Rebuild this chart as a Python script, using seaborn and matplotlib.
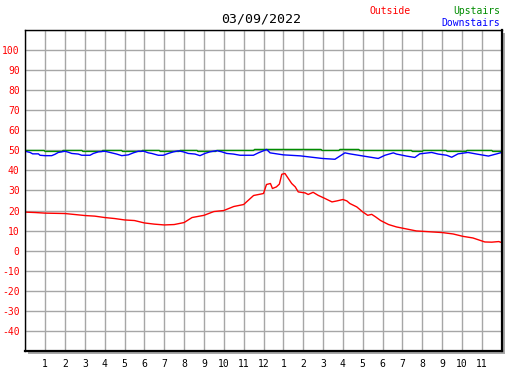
import matplotlib
matplotlib.use("Agg")
import matplotlib.pyplot as plt
import seaborn as sns
from matplotlib.patches import Rectangle

# ---- data (hours since midnight, temperature) ----
out_hours = [0, 0.5, 1, 1.5, 2, 2.5, 3, 3.5, 4, 4.5, 5, 5.5, 6, 6.5, 7, 7.5, 8, 8.4, 9, 9.5,
             10, 10.5, 11, 11.5, 12, 12.15, 12.35, 12.45, 12.65, 12.8, 12.92, 13.08, 13.25,
             13.42, 13.6, 13.75, 14.1, 14.25, 14.5, 14.75, 15.1, 15.45, 15.7, 16.0, 16.2,
             16.35, 16.7, 17.0, 17.25, 17.45, 17.65, 17.9, 18.3, 18.7, 19.1, 19.7, 20.2,
             21.0, 21.55, 22.05, 22.55, 23.15, 23.5, 23.85, 24]
out_temp = [19.2, 19.0, 18.7, 18.6, 18.5, 18.0, 17.5, 17.2, 16.5, 16.0, 15.3, 15.0, 13.8, 13.2,
            12.8, 13.0, 14.0, 16.5, 17.6, 19.5, 20.0, 22.0, 23.0, 27.5, 28.5, 33.0, 33.5, 31.0,
            31.8, 33.2, 38.1, 38.5, 36.0, 33.5, 31.8, 29.3, 28.8, 28.0, 29.1, 27.6, 26.0, 24.3,
            24.8, 25.5, 24.8, 23.5, 21.8, 19.3, 17.6, 18.1, 16.8, 15.0, 13.0, 11.8, 11.0, 9.8,
            9.5, 9.0, 8.3, 7.1, 6.3, 4.3, 4.2, 4.5, 4.0]

up_hours = [0, 0.95, 1.0, 1.85, 1.9, 2.85, 2.9, 3.85, 3.9, 4.85, 4.9, 5.85, 5.9, 6.75, 6.8,
            7.75, 7.8, 8.65, 8.7, 9.6, 9.65, 11.5, 11.55, 14.9, 14.95, 15.8, 15.85, 16.8,
            16.85, 19.45, 19.5, 20.0, 20.05, 21.2, 21.25, 22.2, 22.25, 23.5, 23.55, 24]
up_temp = [50.0, 50.0, 49.5, 49.5, 50.0, 50.0, 49.5, 49.5, 50.0, 50.0, 49.5, 49.5, 50.0, 50.0,
           49.5, 49.5, 50.0, 50.0, 49.5, 49.5, 50.0, 50.0, 50.5, 50.5, 50.0, 50.0, 50.5, 50.5,
           50.0, 50.0, 49.5, 49.5, 50.0, 50.0, 49.5, 49.5, 50.0, 50.0, 49.5, 49.5]

down_hours = [0, 0.24, 0.37, 0.66, 0.74, 0.99, 1.33, 1.5, 1.66, 1.83, 2.0, 2.17, 2.34, 2.67,
              2.84, 3.26, 3.43, 3.68, 4.01, 4.35, 4.6, 4.86, 5.19, 5.44, 5.69, 5.98, 6.2,
              6.37, 6.7, 6.95, 7.2, 7.46, 7.71, 7.96, 8.21, 8.55, 8.8, 9.05, 9.3, 9.64, 9.9,
              10.15, 10.48, 10.82, 11.49, 11.74, 11.99, 12.16, 12.33, 13.0, 13.85, 14.96,
              15.6, 16.1, 16.35, 17.03, 17.78, 18.12, 18.54, 18.7, 19.2, 19.62, 19.87, 20.47,
              20.8, 21.23, 21.48, 21.8, 22.3, 22.74, 23.33, 23.75, 24.0]
down_temp = [49.6, 49.0, 48.3, 48.3, 47.6, 47.4, 47.4, 48.1, 49.0, 49.3, 49.6, 49.1, 48.5,
             48.2, 47.6, 47.6, 48.5, 49.3, 49.6, 48.8, 48.2, 47.4, 47.8, 48.8, 49.6, 49.6,
             48.8, 48.5, 47.6, 47.6, 48.5, 49.3, 49.8, 49.3, 48.5, 48.2, 47.4, 48.5, 49.3,
             49.9, 49.3, 48.5, 48.2, 47.6, 47.6, 48.8, 49.8, 50.5, 48.8, 47.8, 47.3, 46.0,
             45.6, 48.8, 48.3, 47.2, 46.0, 47.6, 48.8, 48.2, 47.2, 46.5, 48.3, 49.0, 48.2,
             47.6, 46.6, 48.3, 49.0, 48.2, 47.2, 48.3, 49.0]

x_ticks = list(range(1, 24))
x_labels = [str(h) for h in range(1, 13)] + [str(h) for h in range(1, 12)]
y_ticks = list(range(-40, 101, 10))

# ---- figure ----
sns.set_style("white")
plt.rcParams['font.family'] = ['DejaVu Sans Mono', 'DejaVu Sans']
plt.rcParams['axes.unicode_minus'] = False

W, H = 527, 370
fig = plt.figure(figsize=(W / 100, H / 100), dpi=100)
x0, x1 = 25.3 / W, 501.7 / W
y0, y1 = 1 - 350.7 / H, 1 - 30.3 / H
ax = fig.add_axes([x0, y0, x1 - x0, y1 - y0])

# drop shadow
fig.patches.append(Rectangle((x0 + 3 / W, y0 - 3 / H), x1 - x0, y1 - y0,
                             transform=fig.transFigure, facecolor='#a8a8a8',
                             edgecolor='none', zorder=-5))
ax.set_facecolor('white')

ax.set_xlim(0, 24)
ax.set_ylim(-50, 110)
ax.set_axisbelow(True)

sns.lineplot(x=up_hours, y=up_temp, ax=ax, color='#008c00', linewidth=1.0,
             estimator=None, sort=False)
sns.lineplot(x=down_hours, y=down_temp, ax=ax, color='#0000ff', linewidth=1.0,
             estimator=None, sort=False)
sns.lineplot(x=out_hours, y=out_temp, ax=ax, color='#ff0000', linewidth=1.0,
             estimator=None, sort=False)

ax.set_xticks(x_ticks)
ax.set_xticklabels(x_labels)
ax.set_xticks(range(0, 25), minor=True)
ax.set_yticks(y_ticks)
ax.set_yticks(range(-50, 111, 10), minor=True)
ax.grid(True, which='both', color='#a6a6a6', linewidth=1.0)
ax.tick_params(axis='x', which='major', direction='in', length=4, width=1,
               colors='black', labelsize=7, pad=6)
ax.tick_params(axis='y', which='major', direction='in', length=4, width=1,
               labelcolor='#ff0000', color='black', labelsize=7, pad=4)
ax.tick_params(which='minor', length=0)
ax.set_xlabel('')
ax.set_ylabel('')

for side in ['left', 'top']:
    ax.spines[side].set_color('black')
    ax.spines[side].set_linewidth(1.0)
for side in ['right', 'bottom']:
    ax.spines[side].set_color('black')
    ax.spines[side].set_linewidth(1.6)

fig.text(261 / W, 1 - 19.5 / H, '03/09/2022', ha='center', va='center', fontsize=9.5,
         color='black')
fig.text(390 / W, 1 - 11 / H, 'Outside', ha='center', va='center', fontsize=7,
         color='#ff0000')
fig.text(500.5 / W, 1 - 11 / H, 'Upstairs', ha='right', va='center', fontsize=7,
         color='#008c00')
fig.text(500.5 / W, 1 - 23 / H, 'Downstairs', ha='right', va='center', fontsize=7,
         color='#0000ff')

fig.savefig('out.png', dpi=100)
